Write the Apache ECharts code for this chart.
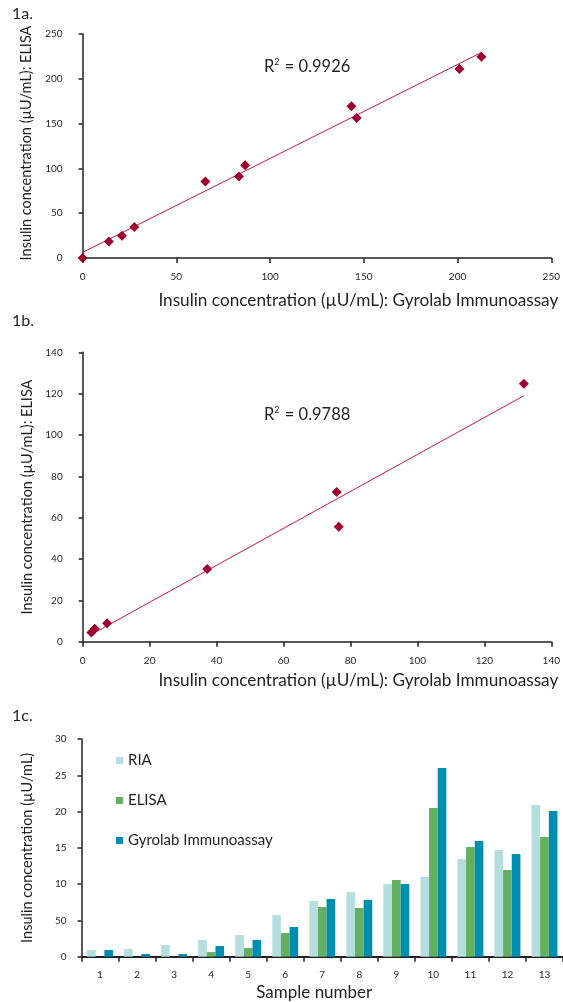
<!DOCTYPE html>
<html><head><meta charset="utf-8">
<script src="https://cdn.jsdelivr.net/npm/echarts@6/dist/echarts.min.js"></script>
<style>html,body{margin:0;padding:0;background:#fff}#c{width:563px;height:1002px}</style>
</head><body><div id="c"></div>
<script>
// ---- 1a data ----
const gyroA = [0, 14, 21, 27.6, 65.5, 83.4, 86.7, 143.4, 146.2, 201, 212.7];
const elisaA = [0, 18.3, 24.8, 34.7, 85.4, 91, 103.5, 169.3, 156.2, 211, 224.6];
const r2A = '0.9926';
// ---- 1b data ----
const gyroB = [2.6, 3.6, 7.3, 37.2, 75.9, 76.5, 131.8];
const elisaB = [4.5, 6.3, 8.9, 35.2, 72.4, 55.6, 124.8];
const r2B = '0.9788';
// ---- 1c data ----
const samples = ['1','2','3','4','5','6','7','8','9','10','11','12','13'];
const ria    = [0.92, 1.06, 1.61, 2.3, 2.99, 5.74, 7.67, 8.91, 10.01, 10.98, 13.46, 14.7, 20.9];
const elisaC = [0, 0, 0, 0.64, 1.19, 3.26, 6.84, 6.71, 10.57, 20.49, 15.11, 11.94, 16.49];
const gyroC  = [0.92, 0.37, 0.37, 1.47, 2.3, 4.09, 7.95, 7.81, 10.01, 26.0, 15.94, 14.15, 20.07];
const yTickLabelsC = ['0','50','10','15','20','25','30'];
const seriesNamesC = ['RIA','ELISA','Gyrolab Immunoassay'];

function zip(a, b) { return a.map((v, i) => [v, b[i]]); }
function fitLine(xs, ys) {
  const n = xs.length;
  const mx = xs.reduce((s, v) => s + v, 0) / n;
  const my = ys.reduce((s, v) => s + v, 0) / n;
  let sxy = 0, sxx = 0;
  for (let i = 0; i < n; i++) { sxy += (xs[i] - mx) * (ys[i] - my); sxx += (xs[i] - mx) * (xs[i] - mx); }
  const b = sxy / sxx, a = my - b * mx;
  const x0 = Math.min(...xs), x1 = Math.max(...xs);
  return [[x0, a + b * x0], [x1, a + b * x1]];
}

const TXT = '#231f20';
const FONT = 'Lato';
const axisLine = { lineStyle: { color: TXT, width: 1.5 } };
const tickX = { show: true, length: 5, lineStyle: { color: TXT, width: 1.5 } };
const tickY = { show: true, length: 4, lineStyle: { color: TXT, width: 1.5 } };
const lblX = { fontSize: 10, color: TXT, fontFamily: FONT, margin: 14 };
const lblY = { fontSize: 10, color: TXT, fontFamily: FONT, margin: 20 };
const MARK = '#a0002c', TREND = '#c8174a';

const chart = echarts.init(document.getElementById('c'));
chart.setOption({
  animation: false,
  textStyle: { fontFamily: FONT },
  grid: [
    { left: 82.6, top: 34, width: 472.2, height: 224 },
    { left: 82.7, top: 352.3, width: 472.1, height: 289.4 },
    { left: 81.5, top: 739, width: 483.2, height: 217.7 }
  ],
  xAxis: [
    { gridIndex: 0, type: 'value', min: 0, max: 250, interval: 50, axisLine, axisTick: tickX, axisLabel: lblX, splitLine: { show: false },
      name: 'Insulin concentration (µU/mL): Gyrolab Immunoassay', nameLocation: 'end', nameGap: 7,
      nameTextStyle: { fontSize: 17.2, color: TXT, fontFamily: FONT, align: 'right', verticalAlign: 'top', padding: [34, 0, 0, 0] } },
    { gridIndex: 1, type: 'value', min: 0, max: 140, interval: 20, axisLine, axisTick: tickX, axisLabel: lblX, splitLine: { show: false },
      name: 'Insulin concentration (µU/mL): Gyrolab Immunoassay', nameLocation: 'end', nameGap: 7,
      nameTextStyle: { fontSize: 17.2, color: TXT, fontFamily: FONT, align: 'right', verticalAlign: 'top', padding: [30, 0, 0, 0] } },
    { gridIndex: 2, type: 'category', data: samples, axisLine: { lineStyle: { color: TXT, width: 2 } },
      axisTick: { show: true, length: 5, lineStyle: { color: TXT, width: 1.5 } },
      axisLabel: { fontSize: 10, color: TXT, fontFamily: FONT, margin: 13 },
      name: 'Sample number', nameLocation: 'middle', nameGap: 27,
      nameTextStyle: { fontSize: 17, color: TXT, fontFamily: FONT, padding: [0, 16, 0, 0] } }
  ],
  yAxis: [
    { gridIndex: 0, type: 'value', min: 0, max: 250, interval: 50, axisLine, axisTick: tickY, axisLabel: lblY, splitLine: { show: false },
      name: 'Insulin concentration (µU/mL): ELISA', nameLocation: 'middle', nameGap: 47,
      nameTextStyle: { fontSize: 14.5, color: TXT, fontFamily: FONT, padding: [0, 0, 0, 6] } },
    { gridIndex: 1, type: 'value', min: 0, max: 140, interval: 20, axisLine, axisTick: tickY, axisLabel: lblY, splitLine: { show: false },
      name: 'Insulin concentration (µU/mL): ELISA', nameLocation: 'middle', nameGap: 47,
      nameTextStyle: { fontSize: 14.5, color: TXT, fontFamily: FONT } },
    { gridIndex: 2, type: 'value', min: 0, max: 30, interval: 5, axisLine: { show: true, lineStyle: { color: TXT, width: 1.5 } },
      axisTick: tickY, splitLine: { show: false },
      axisLabel: { fontSize: 10, color: TXT, fontFamily: FONT, margin: 15, formatter: v => yTickLabelsC[Math.round(v / 5)] },
      name: 'Insulin concentration (µU/mL)', nameLocation: 'middle', nameGap: 47,
      nameTextStyle: { fontSize: 14.5, color: TXT, fontFamily: FONT } }
  ],
  legend: {
    data: seriesNamesC, orient: 'vertical', left: 111, top: 748, itemWidth: 7, itemHeight: 7, itemGap: 25,
    icon: 'rect', textStyle: { fontSize: 15, color: TXT, fontFamily: FONT, lineHeight: 14 }
  },
  graphic: [
    { type: 'text', left: 12, top: 6, style: { text: '1a.', fontSize: 16, fill: TXT, fontFamily: FONT } },
    { type: 'text', left: 12, top: 313, style: { text: '1b.', fontSize: 16, fill: TXT, fontFamily: FONT } },
    { type: 'text', left: 12, top: 708, style: { text: '1c.', fontSize: 16, fill: TXT, fontFamily: FONT } },
    { type: 'text', left: 264, top: 58, style: { text: 'R{s|2} = ' + r2A, fontSize: 16.5, fill: TXT, fontFamily: FONT,
        rich: { s: { fontSize: 9, fill: TXT, fontFamily: FONT, padding: [0, 1, 8, 0] } } } },
    { type: 'text', left: 264, top: 406, style: { text: 'R{s|2} = ' + r2B, fontSize: 16.5, fill: TXT, fontFamily: FONT,
        rich: { s: { fontSize: 9, fill: TXT, fontFamily: FONT, padding: [0, 1, 8, 0] } } } }
  ],
  series: [
    { type: 'line', xAxisIndex: 0, yAxisIndex: 0, data: fitLine(gyroA, elisaA), symbol: 'none', lineStyle: { color: TREND, width: 1 }, z: 2 },
    { type: 'scatter', xAxisIndex: 0, yAxisIndex: 0, data: zip(gyroA, elisaA), symbol: 'diamond', symbolSize: 10, itemStyle: { color: MARK, opacity: 1 }, clip: false, z: 3 },
    { type: 'line', xAxisIndex: 1, yAxisIndex: 1, data: fitLine(gyroB, elisaB), symbol: 'none', lineStyle: { color: TREND, width: 1 }, z: 2 },
    { type: 'scatter', xAxisIndex: 1, yAxisIndex: 1, data: zip(gyroB, elisaB), symbol: 'diamond', symbolSize: 10, itemStyle: { color: MARK, opacity: 1 }, clip: false, z: 3 },
    { name: 'RIA', type: 'bar', xAxisIndex: 2, yAxisIndex: 2, data: ria, itemStyle: { color: '#b5dedf' }, barGap: '0%', barCategoryGap: '30%' },
    { name: 'ELISA', type: 'bar', xAxisIndex: 2, yAxisIndex: 2, data: elisaC, itemStyle: { color: '#64b060' }, barGap: '0%', barCategoryGap: '30%' },
    { name: 'Gyrolab Immunoassay', type: 'bar', xAxisIndex: 2, yAxisIndex: 2, data: gyroC, itemStyle: { color: '#008eb0' }, barGap: '0%', barCategoryGap: '30%' }
  ]
});
</script></body></html>
